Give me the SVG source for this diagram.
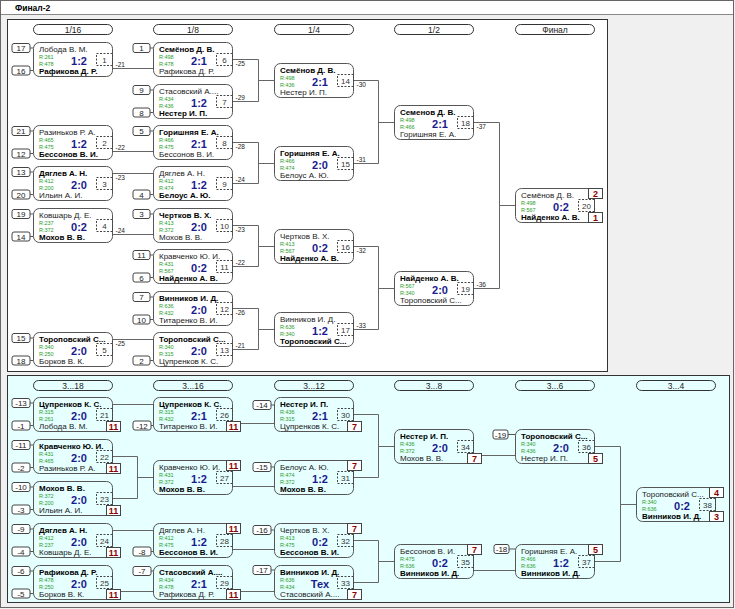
<svg xmlns="http://www.w3.org/2000/svg" width="735" height="609" viewBox="0 0 735 609">
<style>
text{font-family:"Liberation Sans",Arial,sans-serif}
.bx{fill:none;stroke:#555;stroke-width:1}
.tb .bx{fill:#fff}
.n{font-size:8px;fill:#1a1a1a}
.b{font-weight:bold;fill:#000}
.r{font-size:5.5px;fill:#2b9b2b}
.s{font-size:11px;font-weight:bold;fill:#1a1a8c;text-anchor:middle}
.nb{fill:none;stroke:#444;stroke-dasharray:2,1.5}
.nn{font-size:8px;fill:#333;text-anchor:middle}
.lb{font-size:6.5px;fill:#222}
.sb{fill:#fff;stroke:#444;stroke-width:1}
.st{font-size:8px;fill:#222;text-anchor:middle}
.sl{stroke:#555;stroke-width:1}
.pb{fill:#fff;stroke:#444;stroke-width:1}
.pt{font-size:9px;font-weight:bold;fill:#8b0000;text-anchor:middle}
.hp{fill:none;stroke:#333;stroke-width:1}
.ht{font-size:8.5px;fill:#222;text-anchor:middle}
.ln{fill:none;stroke:#666;stroke-width:1}
</style>
<rect width="735" height="609" fill="#f0f0f0"/>
<rect x="0.5" y="0.5" width="733" height="14" fill="#fff" stroke="#888"/>
<rect x="0.5" y="0.5" width="733" height="607" fill="none" stroke="#666"/>
<text x="15" y="11" style="font-size:8.5px;font-weight:bold">Финал-2</text>
<rect x="7.5" y="19.5" width="600" height="352" fill="#fff" stroke="#333"/>
<rect x="7.5" y="375.5" width="722" height="227" fill="#e6ffff" stroke="#333"/>
<g id="headers">
<rect class="hp" x="33.5" y="24.5" width="79" height="10" rx="5"/><text class="ht" x="73" y="32.5">1/16</text>
<rect class="hp" x="153.5" y="24.5" width="79" height="10" rx="5"/><text class="ht" x="193" y="32.5">1/8</text>
<rect class="hp" x="274.5" y="24.5" width="79" height="10" rx="5"/><text class="ht" x="314" y="32.5">1/4</text>
<rect class="hp" x="394.5" y="24.5" width="79" height="10" rx="5"/><text class="ht" x="434" y="32.5">1/2</text>
<rect class="hp" x="515.5" y="24.5" width="79" height="10" rx="5"/><text class="ht" x="555" y="32.5">Финал</text>
<rect class="hp" x="33.5" y="380.5" width="79" height="10" rx="5"/><text class="ht" x="73" y="388.5">3...18</text>
<rect class="hp" x="153.5" y="380.5" width="79" height="10" rx="5"/><text class="ht" x="193" y="388.5">3...16</text>
<rect class="hp" x="274.5" y="380.5" width="79" height="10" rx="5"/><text class="ht" x="314" y="388.5">3...12</text>
<rect class="hp" x="394.5" y="380.5" width="79" height="10" rx="5"/><text class="ht" x="434" y="388.5">3...8</text>
<rect class="hp" x="515.5" y="380.5" width="79" height="10" rx="5"/><text class="ht" x="555" y="388.5">3...6</text>
<rect class="hp" x="636.5" y="380.5" width="79" height="10" rx="5"/><text class="ht" x="676" y="388.5">3...4</text>
</g>
<g id="connectors" class="ln">
<path d="M112.5,68.5H153.5M112.5,151.5H153.5M112.5,173.5H153.5M112.5,234.5H153.5M112.5,339.5H153.5"/>
<path d="M232.5,59.5H258.5V101.5H232.5M258.5,80.5H274.5"/>
<path d="M232.5,142.5H258.5V183.5H232.5M258.5,163.5H274.5"/>
<path d="M232.5,225.5H258.5V266.5H232.5M258.5,246.5H274.5"/>
<path d="M232.5,308.5H258.5V349.5H232.5M258.5,329.5H274.5"/>
<path d="M353.5,80.5H378.5V163.5H353.5M378.5,122.5H394.5"/>
<path d="M353.5,246.5H378.5V329.5H353.5M378.5,288.5H394.5"/>
<path d="M473.5,122.5H499.5V288.5H473.5M499.5,205.5H515.5"/>
<path d="M112.5,404.5H153.5M112.5,530.5H153.5M112.5,591.5H153.5"/>
<path d="M112.5,456.5H137.5V498.5H112.5M137.5,477.5H153.5"/>
<path d="M232.5,423.5H274.5M232.5,486.5H274.5M232.5,549.5H274.5M232.5,591.5H274.5"/>
<path d="M353.5,414.5H378.5V477.5H353.5M378.5,446.5H394.5"/>
<path d="M353.5,540.5H378.5V582.5H353.5M378.5,561.5H394.5"/>
<path d="M473.5,455.5H515.5M473.5,570.5H515.5"/>
<path d="M594.5,446.5H620.5V561.5H594.5M620.5,504.5H636.5"/>
</g>
<g class="tb">
<g id="m1" transform="translate(33,42)">
<rect class="sb" x="-21" y="1.5" width="18" height="9" rx="2"/><text class="st" x="-12" y="9">17</text><line class="sl" x1="-3" y1="6" x2="0.5" y2="6"/>
<rect class="sb" x="-21" y="24" width="18" height="9" rx="2"/><text class="st" x="-12" y="31.5">16</text><line class="sl" x1="-3" y1="28.5" x2="0.5" y2="28.5"/>
<rect class="bx" x="0.5" y="0.5" width="79" height="34" rx="6"/>
<text class="n" x="6" y="10">Лобода В. М.</text><text class="r" x="6" y="17">R:261</text><text class="r" x="6" y="23.5">R:478</text>
<text class="s" x="46" y="22.8">1:2</text><rect class="nb" x="63.5" y="11.5" width="16" height="12"/><text class="nn" x="71.5" y="20.5">1</text>
<text class="n b" x="6" y="32.3">Рафикова Д. Р.</text><text class="lb" x="82.5" y="25">-21</text>
</g>
<g id="m2" transform="translate(33,125)">
<rect class="sb" x="-21" y="1.5" width="18" height="9" rx="2"/><text class="st" x="-12" y="9">21</text><line class="sl" x1="-3" y1="6" x2="0.5" y2="6"/>
<rect class="sb" x="-21" y="24" width="18" height="9" rx="2"/><text class="st" x="-12" y="31.5">12</text><line class="sl" x1="-3" y1="28.5" x2="0.5" y2="28.5"/>
<rect class="bx" x="0.5" y="0.5" width="79" height="34" rx="6"/>
<text class="n" x="6" y="10">Разиньков Р. А.</text><text class="r" x="6" y="17">R:465</text><text class="r" x="6" y="23.5">R:475</text>
<text class="s" x="46" y="22.8">1:2</text><rect class="nb" x="63.5" y="11.5" width="16" height="12"/><text class="nn" x="71.5" y="20.5">2</text>
<text class="n b" x="6" y="32.3">Бессонов В. И.</text><text class="lb" x="82.5" y="25">-22</text>
</g>
<g id="m3" transform="translate(33,166)">
<rect class="sb" x="-21" y="1.5" width="18" height="9" rx="2"/><text class="st" x="-12" y="9">13</text><line class="sl" x1="-3" y1="6" x2="0.5" y2="6"/>
<rect class="sb" x="-21" y="24" width="18" height="9" rx="2"/><text class="st" x="-12" y="31.5">20</text><line class="sl" x1="-3" y1="28.5" x2="0.5" y2="28.5"/>
<rect class="bx" x="0.5" y="0.5" width="79" height="34" rx="6"/>
<text class="n b" x="6" y="10">Дяглев А. Н.</text><text class="r" x="6" y="17">R:412</text><text class="r" x="6" y="23.5">R:200</text>
<text class="s" x="46" y="22.8">2:0</text><rect class="nb" x="63.5" y="11.5" width="16" height="12"/><text class="nn" x="71.5" y="20.5">3</text>
<text class="n" x="6" y="32.3">Ильин А. И.</text><text class="lb" x="82.5" y="13.5">-23</text>
</g>
<g id="m4" transform="translate(33,208)">
<rect class="sb" x="-21" y="1.5" width="18" height="9" rx="2"/><text class="st" x="-12" y="9">19</text><line class="sl" x1="-3" y1="6" x2="0.5" y2="6"/>
<rect class="sb" x="-21" y="24" width="18" height="9" rx="2"/><text class="st" x="-12" y="31.5">14</text><line class="sl" x1="-3" y1="28.5" x2="0.5" y2="28.5"/>
<rect class="bx" x="0.5" y="0.5" width="79" height="34" rx="6"/>
<text class="n" x="6" y="10">Ковшарь Д. Е.</text><text class="r" x="6" y="17">R:237</text><text class="r" x="6" y="23.5">R:372</text>
<text class="s" x="46" y="22.8">0:2</text><rect class="nb" x="63.5" y="11.5" width="16" height="12"/><text class="nn" x="71.5" y="20.5">4</text>
<text class="n b" x="6" y="32.3">Мохов В. В.</text><text class="lb" x="82.5" y="25">-24</text>
</g>
<g id="m5" transform="translate(33,332)">
<rect class="sb" x="-21" y="1.5" width="18" height="9" rx="2"/><text class="st" x="-12" y="9">15</text><line class="sl" x1="-3" y1="6" x2="0.5" y2="6"/>
<rect class="sb" x="-21" y="24" width="18" height="9" rx="2"/><text class="st" x="-12" y="31.5">18</text><line class="sl" x1="-3" y1="28.5" x2="0.5" y2="28.5"/>
<rect class="bx" x="0.5" y="0.5" width="79" height="34" rx="6"/>
<text class="n b" x="6" y="10">Тороповский С...</text><text class="r" x="6" y="17">R:340</text><text class="r" x="6" y="23.5">R:250</text>
<text class="s" x="46" y="22.8">2:0</text><rect class="nb" x="63.5" y="11.5" width="16" height="12"/><text class="nn" x="71.5" y="20.5">5</text>
<text class="n" x="6" y="32.3">Борков В. К.</text><text class="lb" x="82.5" y="13.5">-25</text>
</g>
<g id="m6" transform="translate(153,42)">
<rect class="sb" x="-20" y="1.5" width="17" height="9" rx="2"/><text class="st" x="-11.5" y="9">1</text><line class="sl" x1="-3" y1="6" x2="0.5" y2="6"/>
<rect class="bx" x="0.5" y="0.5" width="79" height="34" rx="6"/>
<text class="n b" x="6" y="10">Семёнов Д. В.</text><text class="r" x="6" y="17">R:498</text><text class="r" x="6" y="23.5">R:478</text>
<text class="s" x="46" y="22.8">2:1</text><rect class="nb" x="63.5" y="11.5" width="16" height="12"/><text class="nn" x="71.5" y="20.5">6</text>
<text class="n" x="6" y="32.3">Рафикова Д. Р.</text><text class="lb" x="82.5" y="23.5">-25</text>
</g>
<g id="m7" transform="translate(153,84)">
<rect class="sb" x="-20" y="1.5" width="17" height="9" rx="2"/><text class="st" x="-11.5" y="9">9</text><line class="sl" x1="-3" y1="6" x2="0.5" y2="6"/>
<rect class="sb" x="-20" y="24" width="17" height="9" rx="2"/><text class="st" x="-11.5" y="31.5">8</text><line class="sl" x1="-3" y1="28.5" x2="0.5" y2="28.5"/>
<rect class="bx" x="0.5" y="0.5" width="79" height="34" rx="6"/>
<text class="n" x="6" y="10">Стасовский А....</text><text class="r" x="6" y="17">R:434</text><text class="r" x="6" y="23.5">R:436</text>
<text class="s" x="46" y="22.8">1:2</text><rect class="nb" x="63.5" y="11.5" width="16" height="12"/><text class="nn" x="71.5" y="20.5">7</text>
<text class="n b" x="6" y="32.3">Нестер И. П.</text><text class="lb" x="82.5" y="16">-29</text>
</g>
<g id="m8" transform="translate(153,125)">
<rect class="sb" x="-20" y="1.5" width="17" height="9" rx="2"/><text class="st" x="-11.5" y="9">5</text><line class="sl" x1="-3" y1="6" x2="0.5" y2="6"/>
<rect class="bx" x="0.5" y="0.5" width="79" height="34" rx="6"/>
<text class="n b" x="6" y="10">Горишняя Е. А.</text><text class="r" x="6" y="17">R:466</text><text class="r" x="6" y="23.5">R:475</text>
<text class="s" x="46" y="22.8">2:1</text><rect class="nb" x="63.5" y="11.5" width="16" height="12"/><text class="nn" x="71.5" y="20.5">8</text>
<text class="n" x="6" y="32.3">Бессонов В. И.</text><text class="lb" x="82.5" y="23.5">-28</text>
</g>
<g id="m9" transform="translate(153,166)">
<rect class="sb" x="-20" y="24" width="17" height="9" rx="2"/><text class="st" x="-11.5" y="31.5">4</text><line class="sl" x1="-3" y1="28.5" x2="0.5" y2="28.5"/>
<rect class="bx" x="0.5" y="0.5" width="79" height="34" rx="6"/>
<text class="n" x="6" y="10">Дяглев А. Н.</text><text class="r" x="6" y="17">R:412</text><text class="r" x="6" y="23.5">R:474</text>
<text class="s" x="46" y="22.8">1:2</text><rect class="nb" x="63.5" y="11.5" width="16" height="12"/><text class="nn" x="71.5" y="20.5">9</text>
<text class="n b" x="6" y="32.3">Белоус А. Ю.</text><text class="lb" x="82.5" y="16">-24</text>
</g>
<g id="m10" transform="translate(153,208)">
<rect class="sb" x="-20" y="1.5" width="17" height="9" rx="2"/><text class="st" x="-11.5" y="9">3</text><line class="sl" x1="-3" y1="6" x2="0.5" y2="6"/>
<rect class="bx" x="0.5" y="0.5" width="79" height="34" rx="6"/>
<text class="n b" x="6" y="10">Чертков В. Х.</text><text class="r" x="6" y="17">R:413</text><text class="r" x="6" y="23.5">R:372</text>
<text class="s" x="46" y="22.8">2:0</text><rect class="nb" x="63.5" y="11.5" width="16" height="12"/><text class="nn" x="71.5" y="20.5">10</text>
<text class="n" x="6" y="32.3">Мохов В. В.</text><text class="lb" x="82.5" y="23.5">-23</text>
</g>
<g id="m11" transform="translate(153,249)">
<rect class="sb" x="-20" y="1.5" width="17" height="9" rx="2"/><text class="st" x="-11.5" y="9">11</text><line class="sl" x1="-3" y1="6" x2="0.5" y2="6"/>
<rect class="sb" x="-20" y="24" width="17" height="9" rx="2"/><text class="st" x="-11.5" y="31.5">6</text><line class="sl" x1="-3" y1="28.5" x2="0.5" y2="28.5"/>
<rect class="bx" x="0.5" y="0.5" width="79" height="34" rx="6"/>
<text class="n" x="6" y="10">Кравченко Ю. И.</text><text class="r" x="6" y="17">R:431</text><text class="r" x="6" y="23.5">R:567</text>
<text class="s" x="46" y="22.8">0:2</text><rect class="nb" x="63.5" y="11.5" width="16" height="12"/><text class="nn" x="71.5" y="20.5">11</text>
<text class="n b" x="6" y="32.3">Найденко А. В.</text><text class="lb" x="82.5" y="16">-22</text>
</g>
<g id="m12" transform="translate(153,291)">
<rect class="sb" x="-20" y="1.5" width="17" height="9" rx="2"/><text class="st" x="-11.5" y="9">7</text><line class="sl" x1="-3" y1="6" x2="0.5" y2="6"/>
<rect class="sb" x="-20" y="24" width="17" height="9" rx="2"/><text class="st" x="-11.5" y="31.5">10</text><line class="sl" x1="-3" y1="28.5" x2="0.5" y2="28.5"/>
<rect class="bx" x="0.5" y="0.5" width="79" height="34" rx="6"/>
<text class="n b" x="6" y="10">Винников И. Д.</text><text class="r" x="6" y="17">R:636</text><text class="r" x="6" y="23.5">R:432</text>
<text class="s" x="46" y="22.8">2:0</text><rect class="nb" x="63.5" y="11.5" width="16" height="12"/><text class="nn" x="71.5" y="20.5">12</text>
<text class="n" x="6" y="32.3">Титаренко В. И.</text><text class="lb" x="82.5" y="23.5">-26</text>
</g>
<g id="m13" transform="translate(153,332)">
<rect class="sb" x="-20" y="24" width="17" height="9" rx="2"/><text class="st" x="-11.5" y="31.5">2</text><line class="sl" x1="-3" y1="28.5" x2="0.5" y2="28.5"/>
<rect class="bx" x="0.5" y="0.5" width="79" height="34" rx="6"/>
<text class="n b" x="6" y="10">Тороповский С...</text><text class="r" x="6" y="17">R:340</text><text class="r" x="6" y="23.5">R:315</text>
<text class="s" x="46" y="22.8">2:0</text><rect class="nb" x="63.5" y="11.5" width="16" height="12"/><text class="nn" x="71.5" y="20.5">13</text>
<text class="n" x="6" y="32.3">Цупренков К. С.</text><text class="lb" x="82.5" y="16">-21</text>
</g>
<g id="m14" transform="translate(274,63)">
<rect class="bx" x="0.5" y="0.5" width="79" height="34" rx="6"/>
<text class="n b" x="6" y="10">Семёнов Д. В.</text><text class="r" x="6" y="17">R:498</text><text class="r" x="6" y="23.5">R:436</text>
<text class="s" x="46" y="22.8">2:1</text><rect class="nb" x="63.5" y="11.5" width="16" height="12"/><text class="nn" x="71.5" y="20.5">14</text>
<text class="n" x="6" y="32.3">Нестер И. П.</text><text class="lb" x="82.5" y="23.5">-30</text>
</g>
<g id="m15" transform="translate(274,146)">
<rect class="bx" x="0.5" y="0.5" width="79" height="34" rx="6"/>
<text class="n b" x="6" y="10">Горишняя Е. А.</text><text class="r" x="6" y="17">R:466</text><text class="r" x="6" y="23.5">R:474</text>
<text class="s" x="46" y="22.8">2:0</text><rect class="nb" x="63.5" y="11.5" width="16" height="12"/><text class="nn" x="71.5" y="20.5">15</text>
<text class="n" x="6" y="32.3">Белоус А. Ю.</text><text class="lb" x="82.5" y="16">-31</text>
</g>
<g id="m16" transform="translate(274,229)">
<rect class="bx" x="0.5" y="0.5" width="79" height="34" rx="6"/>
<text class="n" x="6" y="10">Чертков В. Х.</text><text class="r" x="6" y="17">R:413</text><text class="r" x="6" y="23.5">R:567</text>
<text class="s" x="46" y="22.8">0:2</text><rect class="nb" x="63.5" y="11.5" width="16" height="12"/><text class="nn" x="71.5" y="20.5">16</text>
<text class="n b" x="6" y="32.3">Найденко А. В.</text><text class="lb" x="82.5" y="23.5">-32</text>
</g>
<g id="m17" transform="translate(274,312)">
<rect class="bx" x="0.5" y="0.5" width="79" height="34" rx="6"/>
<text class="n" x="6" y="10">Винников И. Д.</text><text class="r" x="6" y="17">R:636</text><text class="r" x="6" y="23.5">R:340</text>
<text class="s" x="46" y="22.8">1:2</text><rect class="nb" x="63.5" y="11.5" width="16" height="12"/><text class="nn" x="71.5" y="20.5">17</text>
<text class="n b" x="6" y="32.3">Тороповский С...</text><text class="lb" x="82.5" y="16">-33</text>
</g>
<g id="m18" transform="translate(394,105)">
<rect class="bx" x="0.5" y="0.5" width="79" height="34" rx="6"/>
<text class="n b" x="6" y="10">Семенов Д. В.</text><text class="r" x="6" y="17">R:498</text><text class="r" x="6" y="23.5">R:466</text>
<text class="s" x="46" y="22.8">2:1</text><rect class="nb" x="63.5" y="11.5" width="16" height="12"/><text class="nn" x="71.5" y="20.5">18</text>
<text class="n" x="6" y="32.3">Горишняя Е. А.</text><text class="lb" x="82.5" y="23.5">-37</text>
</g>
<g id="m19" transform="translate(394,271)">
<rect class="bx" x="0.5" y="0.5" width="79" height="34" rx="6"/>
<text class="n b" x="6" y="10">Найденко А. В.</text><text class="r" x="6" y="17">R:567</text><text class="r" x="6" y="23.5">R:340</text>
<text class="s" x="46" y="22.8">2:0</text><rect class="nb" x="63.5" y="11.5" width="16" height="12"/><text class="nn" x="71.5" y="20.5">19</text>
<text class="n" x="6" y="32.3">Тороповский С...</text><text class="lb" x="82.5" y="16">-36</text>
</g>
<g id="m20" transform="translate(515,188)">
<rect class="bx" x="0.5" y="0.5" width="79" height="34" rx="6"/>
<text class="n" x="6" y="10">Семёнов Д. В.</text><text class="r" x="6" y="17">R:498</text><text class="r" x="6" y="23.5">R:567</text>
<text class="s" x="46" y="22.8">0:2</text><rect class="nb" x="63.5" y="11.5" width="16" height="12"/><text class="nn" x="71.5" y="20.5">20</text>
<text class="n b" x="6" y="32.3">Найденко А. В.</text>
<rect class="pb" x="73.5" y="0.5" width="14" height="10"/><text class="pt" x="80.5" y="8.8">2</text>
<rect class="pb" x="73.5" y="24.5" width="14" height="10"/><text class="pt" x="80.5" y="32.8">1</text>
</g>
</g>
<g class="bb">
<g id="m21" transform="translate(33,397)">
<rect class="sb" x="-21" y="1.5" width="18" height="9" rx="2"/><text class="st" x="-12" y="9">-13</text><line class="sl" x1="-3" y1="6" x2="0.5" y2="6"/>
<rect class="sb" x="-21" y="24" width="18" height="9" rx="2"/><text class="st" x="-12" y="31.5">-1</text><line class="sl" x1="-3" y1="28.5" x2="0.5" y2="28.5"/>
<rect class="bx" x="0.5" y="0.5" width="79" height="34" rx="6"/>
<text class="n b" x="6" y="10">Цупренков К. С.</text><text class="r" x="6" y="17">R:315</text><text class="r" x="6" y="23.5">R:261</text>
<text class="s" x="46" y="22.8">2:0</text><rect class="nb" x="63.5" y="11.5" width="16" height="12"/><text class="nn" x="71.5" y="20.5">21</text>
<text class="n" x="6" y="32.3">Лобода В. М.</text>
<rect class="pb" x="73.5" y="24.5" width="14" height="10"/><text class="pt" x="80.5" y="32.8">11</text>
</g>
<g id="m22" transform="translate(33,439)">
<rect class="sb" x="-21" y="1.5" width="18" height="9" rx="2"/><text class="st" x="-12" y="9">-11</text><line class="sl" x1="-3" y1="6" x2="0.5" y2="6"/>
<rect class="sb" x="-21" y="24" width="18" height="9" rx="2"/><text class="st" x="-12" y="31.5">-2</text><line class="sl" x1="-3" y1="28.5" x2="0.5" y2="28.5"/>
<rect class="bx" x="0.5" y="0.5" width="79" height="34" rx="6"/>
<text class="n b" x="6" y="10">Кравченко Ю. И.</text><text class="r" x="6" y="17">R:431</text><text class="r" x="6" y="23.5">R:465</text>
<text class="s" x="46" y="22.8">2:0</text><rect class="nb" x="63.5" y="11.5" width="16" height="12"/><text class="nn" x="71.5" y="20.5">22</text>
<text class="n" x="6" y="32.3">Разиньков Р. А.</text>
<rect class="pb" x="73.5" y="24.5" width="14" height="10"/><text class="pt" x="80.5" y="32.8">11</text>
</g>
<g id="m23" transform="translate(33,481)">
<rect class="sb" x="-21" y="1.5" width="18" height="9" rx="2"/><text class="st" x="-12" y="9">-10</text><line class="sl" x1="-3" y1="6" x2="0.5" y2="6"/>
<rect class="sb" x="-21" y="24" width="18" height="9" rx="2"/><text class="st" x="-12" y="31.5">-3</text><line class="sl" x1="-3" y1="28.5" x2="0.5" y2="28.5"/>
<rect class="bx" x="0.5" y="0.5" width="79" height="34" rx="6"/>
<text class="n b" x="6" y="10">Мохов В. В.</text><text class="r" x="6" y="17">R:372</text><text class="r" x="6" y="23.5">R:200</text>
<text class="s" x="46" y="22.8">2:0</text><rect class="nb" x="63.5" y="11.5" width="16" height="12"/><text class="nn" x="71.5" y="20.5">23</text>
<text class="n" x="6" y="32.3">Ильин А. И.</text>
<rect class="pb" x="73.5" y="24.5" width="14" height="10"/><text class="pt" x="80.5" y="32.8">11</text>
</g>
<g id="m24" transform="translate(33,523)">
<rect class="sb" x="-21" y="1.5" width="18" height="9" rx="2"/><text class="st" x="-12" y="9">-9</text><line class="sl" x1="-3" y1="6" x2="0.5" y2="6"/>
<rect class="sb" x="-21" y="24" width="18" height="9" rx="2"/><text class="st" x="-12" y="31.5">-4</text><line class="sl" x1="-3" y1="28.5" x2="0.5" y2="28.5"/>
<rect class="bx" x="0.5" y="0.5" width="79" height="34" rx="6"/>
<text class="n b" x="6" y="10">Дяглев А. Н.</text><text class="r" x="6" y="17">R:412</text><text class="r" x="6" y="23.5">R:237</text>
<text class="s" x="46" y="22.8">2:0</text><rect class="nb" x="63.5" y="11.5" width="16" height="12"/><text class="nn" x="71.5" y="20.5">24</text>
<text class="n" x="6" y="32.3">Ковшарь Д. Е.</text>
<rect class="pb" x="73.5" y="24.5" width="14" height="10"/><text class="pt" x="80.5" y="32.8">11</text>
</g>
<g id="m25" transform="translate(33,565)">
<rect class="sb" x="-21" y="1.5" width="18" height="9" rx="2"/><text class="st" x="-12" y="9">-6</text><line class="sl" x1="-3" y1="6" x2="0.5" y2="6"/>
<rect class="sb" x="-21" y="24" width="18" height="9" rx="2"/><text class="st" x="-12" y="31.5">-5</text><line class="sl" x1="-3" y1="28.5" x2="0.5" y2="28.5"/>
<rect class="bx" x="0.5" y="0.5" width="79" height="34" rx="6"/>
<text class="n b" x="6" y="10">Рафикова Д. Р.</text><text class="r" x="6" y="17">R:478</text><text class="r" x="6" y="23.5">R:250</text>
<text class="s" x="46" y="22.8">2:0</text><rect class="nb" x="63.5" y="11.5" width="16" height="12"/><text class="nn" x="71.5" y="20.5">25</text>
<text class="n" x="6" y="32.3">Борков В. К.</text>
<rect class="pb" x="73.5" y="24.5" width="14" height="10"/><text class="pt" x="80.5" y="32.8">11</text>
</g>
<g id="m26" transform="translate(153,397)">
<rect class="sb" x="-20" y="24" width="18" height="9" rx="2"/><text class="st" x="-11" y="31.5">-12</text><line class="sl" x1="-2" y1="28.5" x2="0.5" y2="28.5"/>
<rect class="bx" x="0.5" y="0.5" width="79" height="34" rx="6"/>
<text class="n b" x="6" y="10">Цупренков К. С.</text><text class="r" x="6" y="17">R:315</text><text class="r" x="6" y="23.5">R:432</text>
<text class="s" x="46" y="22.8">2:1</text><rect class="nb" x="63.5" y="11.5" width="16" height="12"/><text class="nn" x="71.5" y="20.5">26</text>
<text class="n" x="6" y="32.3">Титаренко В. И.</text>
<rect class="pb" x="73.5" y="24.5" width="14" height="10"/><text class="pt" x="80.5" y="32.8">11</text>
</g>
<g id="m27" transform="translate(153,460)">
<rect class="bx" x="0.5" y="0.5" width="79" height="34" rx="6"/>
<text class="n" x="6" y="10">Кравченко Ю. И.</text><text class="r" x="6" y="17">R:431</text><text class="r" x="6" y="23.5">R:372</text>
<text class="s" x="46" y="22.8">1:2</text><rect class="nb" x="63.5" y="11.5" width="16" height="12"/><text class="nn" x="71.5" y="20.5">27</text>
<text class="n b" x="6" y="32.3">Мохов В. В.</text>
<rect class="pb" x="73.5" y="0.5" width="14" height="10"/><text class="pt" x="80.5" y="8.8">11</text>
</g>
<g id="m28" transform="translate(153,523)">
<rect class="sb" x="-20" y="24" width="18" height="9" rx="2"/><text class="st" x="-11" y="31.5">-8</text><line class="sl" x1="-2" y1="28.5" x2="0.5" y2="28.5"/>
<rect class="bx" x="0.5" y="0.5" width="79" height="34" rx="6"/>
<text class="n" x="6" y="10">Дяглев А. Н.</text><text class="r" x="6" y="17">R:412</text><text class="r" x="6" y="23.5">R:475</text>
<text class="s" x="46" y="22.8">1:2</text><rect class="nb" x="63.5" y="11.5" width="16" height="12"/><text class="nn" x="71.5" y="20.5">28</text>
<text class="n b" x="6" y="32.3">Бессонов В. И.</text>
<rect class="pb" x="73.5" y="0.5" width="14" height="10"/><text class="pt" x="80.5" y="8.8">11</text>
</g>
<g id="m29" transform="translate(153,565)">
<rect class="sb" x="-20" y="1.5" width="18" height="9" rx="2"/><text class="st" x="-11" y="9">-7</text><line class="sl" x1="-2" y1="6" x2="0.5" y2="6"/>
<rect class="bx" x="0.5" y="0.5" width="79" height="34" rx="6"/>
<text class="n b" x="6" y="10">Стасовский А....</text><text class="r" x="6" y="17">R:434</text><text class="r" x="6" y="23.5">R:478</text>
<text class="s" x="46" y="22.8">2:1</text><rect class="nb" x="63.5" y="11.5" width="16" height="12"/><text class="nn" x="71.5" y="20.5">29</text>
<text class="n" x="6" y="32.3">Рафикова Д. Р.</text>
<rect class="pb" x="73.5" y="24.5" width="14" height="10"/><text class="pt" x="80.5" y="32.8">11</text>
</g>
<g id="m30" transform="translate(274,397)">
<rect class="sb" x="-21" y="3.5" width="18" height="9" rx="2"/><text class="st" x="-12" y="11">-14</text><line class="sl" x1="-3" y1="8" x2="0.5" y2="8"/>
<rect class="bx" x="0.5" y="0.5" width="79" height="34" rx="6"/>
<text class="n b" x="6" y="10">Нестер И. П.</text><text class="r" x="6" y="17">R:436</text><text class="r" x="6" y="23.5">R:315</text>
<text class="s" x="46" y="22.8">2:1</text><rect class="nb" x="63.5" y="11.5" width="16" height="12"/><text class="nn" x="71.5" y="20.5">30</text>
<text class="n" x="6" y="32.3">Цупренков К. С.</text>
<rect class="pb" x="73.5" y="24.5" width="14" height="10"/><text class="pt" x="80.5" y="32.8">7</text>
</g>
<g id="m31" transform="translate(274,460)">
<rect class="sb" x="-21" y="2.5" width="18" height="9" rx="2"/><text class="st" x="-12" y="10">-15</text><line class="sl" x1="-3" y1="7" x2="0.5" y2="7"/>
<rect class="bx" x="0.5" y="0.5" width="79" height="34" rx="6"/>
<text class="n" x="6" y="10">Белоус А. Ю.</text><text class="r" x="6" y="17">R:474</text><text class="r" x="6" y="23.5">R:372</text>
<text class="s" x="46" y="22.8">1:2</text><rect class="nb" x="63.5" y="11.5" width="16" height="12"/><text class="nn" x="71.5" y="20.5">31</text>
<text class="n b" x="6" y="32.3">Мохов В. В.</text>
<rect class="pb" x="73.5" y="0.5" width="14" height="10"/><text class="pt" x="80.5" y="8.8">7</text>
</g>
<g id="m32" transform="translate(274,523)">
<rect class="sb" x="-21" y="2.5" width="18" height="9" rx="2"/><text class="st" x="-12" y="10">-16</text><line class="sl" x1="-3" y1="7" x2="0.5" y2="7"/>
<rect class="bx" x="0.5" y="0.5" width="79" height="34" rx="6"/>
<text class="n" x="6" y="10">Чертков В. Х.</text><text class="r" x="6" y="17">R:413</text><text class="r" x="6" y="23.5">R:475</text>
<text class="s" x="46" y="22.8">0:2</text><rect class="nb" x="63.5" y="11.5" width="16" height="12"/><text class="nn" x="71.5" y="20.5">32</text>
<text class="n b" x="6" y="32.3">Бессонов В. И.</text>
<rect class="pb" x="73.5" y="0.5" width="14" height="10"/><text class="pt" x="80.5" y="8.8">7</text>
</g>
<g id="m33" transform="translate(274,565)">
<rect class="sb" x="-21" y="0.5" width="18" height="9" rx="2"/><text class="st" x="-12" y="8">-17</text><line class="sl" x1="-3" y1="5" x2="0.5" y2="5"/>
<rect class="bx" x="0.5" y="0.5" width="79" height="34" rx="6"/>
<text class="n b" x="6" y="10">Винников И. Д.</text><text class="r" x="6" y="17">R:636</text><text class="r" x="6" y="23.5">R:434</text>
<text class="s" x="46" y="22.8">Тех</text><rect class="nb" x="63.5" y="11.5" width="16" height="12"/><text class="nn" x="71.5" y="20.5">33</text>
<text class="n" x="6" y="32.3">Стасовский А....</text>
<rect class="pb" x="73.5" y="24.5" width="14" height="10"/><text class="pt" x="80.5" y="32.8">7</text>
</g>
<g id="m34" transform="translate(394,429)">
<rect class="bx" x="0.5" y="0.5" width="79" height="34" rx="6"/>
<text class="n b" x="6" y="10">Нестер И. П.</text><text class="r" x="6" y="17">R:436</text><text class="r" x="6" y="23.5">R:372</text>
<text class="s" x="46" y="22.8">2:0</text><rect class="nb" x="63.5" y="11.5" width="16" height="12"/><text class="nn" x="71.5" y="20.5">34</text>
<text class="n" x="6" y="32.3">Мохов В. В.</text>
<rect class="pb" x="73.5" y="24.5" width="14" height="10"/><text class="pt" x="80.5" y="32.8">7</text>
</g>
<g id="m35" transform="translate(394,544)">
<rect class="bx" x="0.5" y="0.5" width="79" height="34" rx="6"/>
<text class="n" x="6" y="10">Бессонов В. И.</text><text class="r" x="6" y="17">R:475</text><text class="r" x="6" y="23.5">R:636</text>
<text class="s" x="46" y="22.8">0:2</text><rect class="nb" x="63.5" y="11.5" width="16" height="12"/><text class="nn" x="71.5" y="20.5">35</text>
<text class="n b" x="6" y="32.3">Винников И. Д.</text>
<rect class="pb" x="73.5" y="0.5" width="14" height="10"/><text class="pt" x="80.5" y="8.8">7</text>
</g>
<g id="m36" transform="translate(515,429)">
<rect class="sb" x="-22" y="1" width="15" height="9" rx="2"/><text class="st" x="-14.5" y="8.5">-19</text><line class="sl" x1="-7" y1="5.5" x2="0.5" y2="5.5"/>
<rect class="bx" x="0.5" y="0.5" width="79" height="34" rx="6"/>
<text class="n b" x="6" y="10">Тороповский С...</text><text class="r" x="6" y="17">R:340</text><text class="r" x="6" y="23.5">R:436</text>
<text class="s" x="46" y="22.8">2:0</text><rect class="nb" x="63.5" y="11.5" width="16" height="12"/><text class="nn" x="71.5" y="20.5">36</text>
<text class="n" x="6" y="32.3">Нестер И. П.</text>
<rect class="pb" x="73.5" y="24.5" width="14" height="10"/><text class="pt" x="80.5" y="32.8">5</text>
</g>
<g id="m37" transform="translate(515,544)">
<rect class="sb" x="-21" y="0.5" width="15" height="9" rx="2"/><text class="st" x="-13.5" y="8">-18</text><line class="sl" x1="-6" y1="5" x2="0.5" y2="5"/>
<rect class="bx" x="0.5" y="0.5" width="79" height="34" rx="6"/>
<text class="n" x="6" y="10">Горишняя Е. А.</text><text class="r" x="6" y="17">R:466</text><text class="r" x="6" y="23.5">R:636</text>
<text class="s" x="46" y="22.8">1:2</text><rect class="nb" x="63.5" y="11.5" width="16" height="12"/><text class="nn" x="71.5" y="20.5">37</text>
<text class="n b" x="6" y="32.3">Винников И. Д.</text>
<rect class="pb" x="73.5" y="0.5" width="14" height="10"/><text class="pt" x="80.5" y="8.8">5</text>
</g>
<g id="m38" transform="translate(636,487)">
<rect class="bx" x="0.5" y="0.5" width="79" height="34" rx="6"/>
<text class="n" x="6" y="10">Тороповский С...</text><text class="r" x="6" y="17">R:340</text><text class="r" x="6" y="23.5">R:636</text>
<text class="s" x="46" y="22.8">0:2</text><rect class="nb" x="63.5" y="11.5" width="16" height="12"/><text class="nn" x="71.5" y="20.5">38</text>
<text class="n b" x="6" y="32.3">Винников И. Д.</text>
<rect class="pb" x="73.5" y="0.5" width="14" height="10"/><text class="pt" x="80.5" y="8.8">4</text>
<rect class="pb" x="73.5" y="24.5" width="14" height="10"/><text class="pt" x="80.5" y="32.8">3</text>
</g>
</g>
</svg>
